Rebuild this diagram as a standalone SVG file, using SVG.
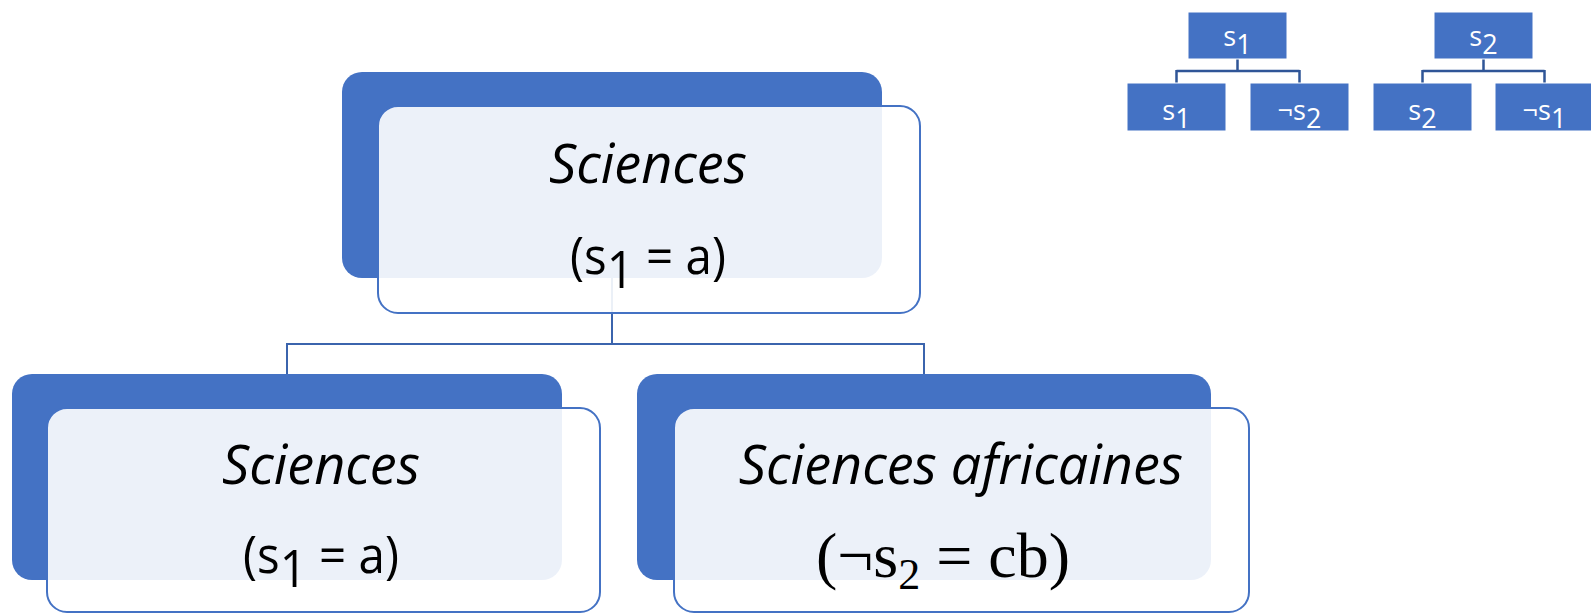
<svg xmlns="http://www.w3.org/2000/svg" width="1591" height="613" viewBox="0 0 1591 613">
  <style>
    .back { fill: #4472C4; }
    .front { fill: #FFFFFF; fill-opacity: 0.9; stroke: #4472C4; stroke-width: 2; }
    .conn { fill: none; stroke: #3B64AD; stroke-width: 2; }
    .mini-conn { fill: none; stroke: #2F5597; stroke-width: 2.5; }
    .mini-box { fill: #4472C4; stroke: #FFFFFF; stroke-width: 1; }
    .title { font-family: "Open Sans", "Liberation Sans", sans-serif; font-style: italic; font-size: 54px; fill: #000000; text-anchor: middle; }
    .formula { font-family: "Open Sans", "Liberation Sans", sans-serif; font-size: 52px; fill: #000000; text-anchor: middle; }
    .formula-serif { font-family: "Liberation Serif", "Times New Roman", serif; font-size: 64px; fill: #000000; text-anchor: middle; }
    .mini { font-family: "Open Sans", "Liberation Sans", sans-serif; font-size: 27px; fill: #FFFFFF; text-anchor: middle; }
  </style>

  <!-- main tree connectors -->
  <g id="connectors">
    <path class="conn" d="M612 278 V344 M287 344 H924 M287 343 V374 M924 343 V374"/>
  </g>

  <!-- root: Sciences (s1 = a) -->
  <g id="node-root">
    <rect class="back" x="342" y="72" width="540" height="206" rx="20"/>
    <rect class="front" x="378" y="106" width="542" height="207" rx="20"/>
    <text class="title" x="648" y="183">Sciences</text>
    <text class="formula" x="648" y="274" textLength="156" lengthAdjust="spacingAndGlyphs">(s<tspan dy="14">1</tspan><tspan dy="-14"> = a)</tspan></text>
  </g>

  <!-- child: Sciences (s1 = a) -->
  <g id="node-left">
    <rect class="back" x="12" y="374" width="550" height="206" rx="20"/>
    <rect class="front" x="47" y="408" width="553" height="204" rx="20"/>
    <text class="title" x="321" y="484">Sciences</text>
    <text class="formula" x="321" y="573" textLength="156" lengthAdjust="spacingAndGlyphs">(s<tspan dy="14">1</tspan><tspan dy="-14"> = a)</tspan></text>
  </g>

  <!-- child: Sciences africaines (¬s2 = cb) -->
  <g id="node-right">
    <rect class="back" x="637" y="374" width="574" height="206" rx="20"/>
    <rect class="front" x="674" y="408" width="575" height="204" rx="20"/>
    <text class="title" x="961" y="484">Sciences africaines</text>
    <text class="formula-serif" x="943" y="577">(¬s<tspan dy="12" font-size="44">2</tspan><tspan dy="-12"> = cb)</tspan></text>
  </g>

  <!-- small tree for s1 -->
  <g id="mini-s1-connectors">
    <path class="mini-conn" d="M1237.5 59 V71 M1176.5 71 H1299.5 M1176.5 70 V83 M1299.5 70 V83"/>
  </g>
  <g id="mini-s1">
    <rect class="mini-box" x="1188" y="12" width="99" height="47"/>
    <text class="mini" x="1237.5" y="46">s<tspan dy="8">1</tspan></text>
  </g>
  <g id="mini-s1-pos">
    <rect class="mini-box" x="1127" y="83" width="99" height="48"/>
    <text class="mini" x="1176.5" y="120">s<tspan dy="8">1</tspan></text>
  </g>
  <g id="mini-s1-neg">
    <rect class="mini-box" x="1250" y="83" width="99" height="48"/>
    <text class="mini" x="1299.5" y="120">¬s<tspan dy="8">2</tspan></text>
  </g>

  <!-- small tree for s2 -->
  <g id="mini-s2-connectors">
    <path class="mini-conn" d="M1483.5 59 V71 M1422.5 71 H1544.5 M1422.5 70 V83 M1544.5 70 V83"/>
  </g>
  <g id="mini-s2">
    <rect class="mini-box" x="1434" y="12" width="99" height="47"/>
    <text class="mini" x="1483.5" y="46">s<tspan dy="8">2</tspan></text>
  </g>
  <g id="mini-s2-pos">
    <rect class="mini-box" x="1373" y="83" width="99" height="48"/>
    <text class="mini" x="1422.5" y="120">s<tspan dy="8">2</tspan></text>
  </g>
  <g id="mini-s2-neg">
    <rect class="mini-box" x="1495" y="83" width="99" height="48"/>
    <text class="mini" x="1544.5" y="120">¬s<tspan dy="8">1</tspan></text>
  </g>
</svg>
